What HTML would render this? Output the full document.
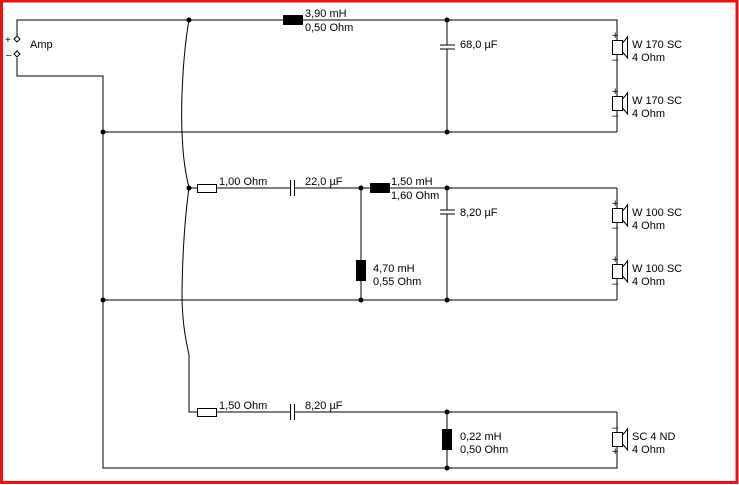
<!DOCTYPE html>
<html><head><meta charset="utf-8"><style>
html,body{margin:0;padding:0;background:#fff}
svg{display:block}
text{font-family:"Liberation Sans",sans-serif;font-size:11px;fill:#000}
</style></head><body>
<svg width="739" height="485" viewBox="0 0 739 485" xmlns="http://www.w3.org/2000/svg">
<rect x="0" y="0" width="739" height="485" fill="#fff"/>
<rect x="1.5" y="1" width="735.5" height="481.5" fill="none" stroke="#f01010" stroke-width="3"/>
<g stroke="#000" stroke-width="1" fill="none">
<!-- amp -->
<polyline points="17,36 17,20 617,20 617,132"/>
<polyline points="17,58 17,76 103,76 103,468 617,468 617,446"/>
<line x1="103" y1="132" x2="617" y2="132"/>
<line x1="103" y1="300" x2="617" y2="300"/>
<line x1="617" y1="188" x2="617" y2="300"/>
<line x1="617" y1="412" x2="617" y2="432"/>
<!-- curves -->
<path d="M189,20 C182,60 181,110 182,132 C183,160 186,175 189,188"/>
<path d="M189,188 C183,230 182,280 182,300 C183,330 187,345 189,355 L189,412 L197,412"/>
<!-- mid branch -->
<line x1="189" y1="188" x2="197" y2="188"/>
<line x1="216" y1="188" x2="290" y2="188"/>
<line x1="294" y1="188" x2="617" y2="188"/>
<line x1="361" y1="188" x2="361" y2="300"/>
<line x1="447" y1="20" x2="447" y2="132"/>
<line x1="447" y1="188" x2="447" y2="300"/>
<!-- bottom branch -->
<line x1="216" y1="412" x2="290" y2="412"/>
<line x1="294" y1="412" x2="617" y2="412"/>
<line x1="447" y1="412" x2="447" y2="468"/>
</g>
<!-- amp terminals -->
<g stroke="#000" fill="#fff">
<polygon points="17,36 20,39 17,42 14,39"/>
<polygon points="17,51 20,54 17,57 14,54"/>
</g>
<text x="5" y="43" style="font-size:10px">+</text>
<text x="6" y="58" style="font-size:10px">–</text>
<text x="30" y="48">Amp</text>
<!-- caps: white gaps and plates -->
<g fill="#fff" stroke="none">
<rect x="440" y="45" width="14" height="4"/>
<rect x="440" y="210" width="14" height="4"/>
<rect x="290" y="184" width="4" height="8"/>
<rect x="290" y="408" width="4" height="8"/>
</g>
<g stroke="#000" stroke-width="1">
<line x1="440" y1="45" x2="455" y2="45"/><line x1="440" y1="49" x2="455" y2="49"/>
<line x1="440" y1="210" x2="455" y2="210"/><line x1="440" y1="214" x2="455" y2="214"/>
<line x1="290.5" y1="180" x2="290.5" y2="196"/><line x1="294.5" y1="180" x2="294.5" y2="196"/>
<line x1="290.5" y1="404" x2="290.5" y2="420"/><line x1="294.5" y1="404" x2="294.5" y2="420"/>
</g>
<!-- resistors -->
<rect x="197.5" y="184.5" width="19" height="8" fill="#fff" stroke="#000"/>
<rect x="197.5" y="408.5" width="19" height="8" fill="#fff" stroke="#000"/>
<!-- inductors -->
<rect x="283" y="15" width="20" height="10" fill="#000"/>
<rect x="370" y="183" width="20" height="10" fill="#000"/>
<rect x="356" y="260" width="10" height="21" fill="#000"/>
<rect x="442" y="429" width="10" height="21" fill="#000"/>
<!-- dots -->
<g fill="#000">
<circle cx="189" cy="20" r="2.5"/><circle cx="447" cy="20" r="2.5"/>
<circle cx="103" cy="132" r="2.5"/><circle cx="447" cy="132" r="2.5"/>
<circle cx="189" cy="188" r="2.5"/><circle cx="361" cy="188" r="2.5"/><circle cx="447" cy="188" r="2.5"/>
<circle cx="103" cy="300" r="2.5"/><circle cx="361" cy="300" r="2.5"/><circle cx="447" cy="300" r="2.5"/>
<circle cx="447" cy="412" r="2.5"/><circle cx="447" cy="468" r="2.5"/>
</g>
<!-- speakers -->
<g stroke="#000" fill="#fff">
<rect x="612.5" y="40.5" width="10" height="14"/>
<polyline points="622.5,43 627.5,37 627.5,58 622.5,52" fill="none"/>
<rect x="612.5" y="96.5" width="10" height="14"/>
<polyline points="622.5,99 627.5,93 627.5,114 622.5,108" fill="none"/>
<rect x="612.5" y="208.5" width="10" height="14"/>
<polyline points="622.5,211 627.5,205 627.5,226 622.5,220" fill="none"/>
<rect x="612.5" y="264.5" width="10" height="14"/>
<polyline points="622.5,267 627.5,261 627.5,282 622.5,276" fill="none"/>
<rect x="612.5" y="432.5" width="10" height="14"/>
<polyline points="622.5,435 627.5,429 627.5,450 622.5,444" fill="none"/>
</g>
<g style="font-size:9px">
<text x="612" y="39">+</text><text x="612" y="63">–</text>
<text x="612" y="95">+</text><text x="612" y="119">–</text>
<text x="612" y="207">+</text><text x="612" y="231">–</text>
<text x="612" y="263">+</text><text x="612" y="287">–</text>
<text x="612" y="431">–</text><text x="612" y="455">+</text>
</g>
<!-- labels -->
<text x="305" y="17">3,90 mH</text><text x="305" y="31">0,50 Ohm</text>
<text x="460" y="48">68,0 µF</text>
<text x="632" y="48">W 170 SC</text><text x="632" y="61">4 Ohm</text>
<text x="632" y="104">W 170 SC</text><text x="632" y="117">4 Ohm</text>
<text x="219" y="185">1,00 Ohm</text>
<text x="305" y="185">22,0 µF</text>
<text x="391" y="185">1,50 mH</text><text x="391" y="199">1,60 Ohm</text>
<text x="460" y="216">8,20 µF</text>
<text x="373" y="272">4,70 mH</text><text x="373" y="285">0,55 Ohm</text>
<text x="632" y="216">W 100 SC</text><text x="632" y="229">4 Ohm</text>
<text x="632" y="272">W 100 SC</text><text x="632" y="285">4 Ohm</text>
<text x="219" y="409">1,50 Ohm</text>
<text x="305" y="409">8,20 µF</text>
<text x="460" y="440">0,22 mH</text><text x="460" y="453">0,50 Ohm</text>
<text x="632" y="440">SC 4 ND</text><text x="632" y="453">4 Ohm</text>
</svg>
</body></html>
